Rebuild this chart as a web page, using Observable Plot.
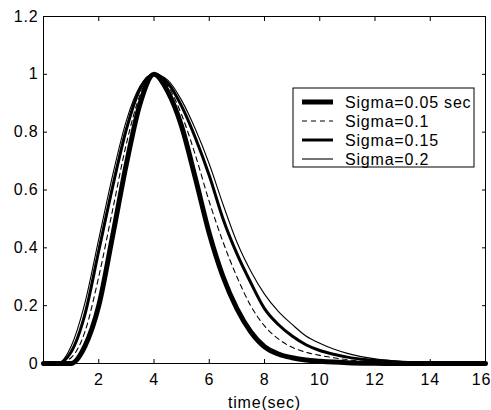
<!DOCTYPE html>
<html><head><meta charset="utf-8">
<script src="https://cdn.jsdelivr.net/npm/d3@7"></script>
<script src="https://cdn.jsdelivr.net/npm/@observablehq/plot@0.6"></script>
<style>
body{margin:0;background:#fff}
#chart svg{font-family:"Liberation Sans",Arial,sans-serif;letter-spacing:0.8px}
</style>
</head><body><div id="chart"></div>
<script>
const time = [0,0.5,1,1.5,2,2.5,3,3.5,4,4.5,5,5.5,6,6.5,7,7.5,8,8.5,9,9.5,10,10.5,11,12,13,14,15,16];
const sigma005 = [0,0,0,0.06,0.2,0.44,0.69,0.9,1,0.94,0.82,0.64,0.45,0.3,0.19,0.11,0.058,0.033,0.02,0.012,0.008,0.005,0.003,0.001,0,0,0,0];
const sigma01  = [0,0,0.02,0.11,0.3,0.53,0.76,0.93,1,0.96,0.86,0.72,0.56,0.42,0.3,0.2,0.13,0.085,0.056,0.039,0.028,0.02,0.013,0.005,0.002,0,0,0];
const sigma015 = [0,0,0.04,0.17,0.39,0.61,0.81,0.95,1,0.97,0.89,0.78,0.65,0.5,0.38,0.28,0.19,0.135,0.095,0.065,0.045,0.032,0.022,0.01,0.004,0.001,0,0];
const sigma02  = [0,0,0.06,0.21,0.43,0.65,0.84,0.96,1,0.98,0.91,0.81,0.69,0.55,0.42,0.32,0.24,0.18,0.135,0.095,0.07,0.05,0.035,0.016,0.007,0.003,0.001,0];
const seriesNames = ["Sigma=0.05 sec","Sigma=0.1","Sigma=0.15","Sigma=0.2"];
const xTicks = [2,4,6,8,10,12,14,16];
const yTicks = [0,0.2,0.4,0.6,0.8,1,1.2];
const xLabel = "time(sec)";

const styles = [
  {width:5, dash:null},
  {width:1.1, dash:"5,4"},
  {width:3, dash:null},
  {width:1.1, dash:null}
];
const valuesList = [sigma005, sigma01, sigma015, sigma02];
const lineMarks = valuesList.map((vals, k) => {
  const rows = time.map((t, i) => ({t, v: vals[i]}));
  return Plot.line(rows, {x:"t", y:"v", curve:"monotone-x", stroke:"black",
    strokeWidth: styles[k].width, strokeDasharray: styles[k].dash, strokeLinejoin:"round"});
});
const lastX = xTicks[xTicks.length - 1];

const svg = Plot.plot({
  width:491, height:410,
  marginLeft:43, marginRight:6, marginTop:16, marginBottom:47,
  style:{fontSize:"16px", color:"black", background:"white", overflow:"visible"},
  x:{domain:[0,16]},
  y:{domain:[0,1.2]},
  marks:[
    ...lineMarks,
    Plot.frame({stroke:"black", strokeWidth:1}),
    Plot.axisY({anchor:"left", ticks:yTicks, tickSize:0, tickPadding:5, tickFormat:d=>String(d), label:null}),
    Plot.axisY({anchor:"left", ticks:yTicks, tickSize:-4, fill:"none", label:null}),
    Plot.axisY({anchor:"right", ticks:yTicks, tickSize:-4, fill:"none", label:null}),
    Plot.axisX({anchor:"bottom", ticks:xTicks.filter(d => d !== lastX), tickSize:0, tickPadding:10, tickFormat:d=>String(d), label:xLabel, labelAnchor:"center", labelArrow:"none", labelOffset:44}),
    Plot.axisX({anchor:"bottom", ticks:[lastX], tickSize:0, tickPadding:10, dx:-4, tickFormat:d=>String(d), label:null}),
    Plot.axisX({anchor:"bottom", ticks:xTicks, tickSize:-4, fill:"none", label:null}),
    Plot.axisX({anchor:"top", ticks:xTicks, tickSize:-4, fill:"none", label:null})
  ]
});

// legend box inside the plot (top right)
const g = d3.select(svg).append("g").attr("class","legend").attr("text-anchor","start");
g.append("rect").attr("x",293).attr("y",88).attr("width",181).attr("height",79)
  .attr("fill","white").attr("stroke","black").attr("stroke-width",1);
seriesNames.forEach((name, k) => {
  const yy = 102 + k*19;
  g.append("line").attr("x1",302).attr("x2",333).attr("y1",yy).attr("y2",yy)
    .attr("stroke","black").attr("stroke-width",styles[k].width)
    .attr("stroke-dasharray",styles[k].dash);
  g.append("text").attr("x",345).attr("y",yy).attr("dy","0.35em")
    .attr("text-anchor","start").attr("font-size",16).attr("fill","black").text(name);
});
document.getElementById("chart").appendChild(svg);
</script>
</body></html>
